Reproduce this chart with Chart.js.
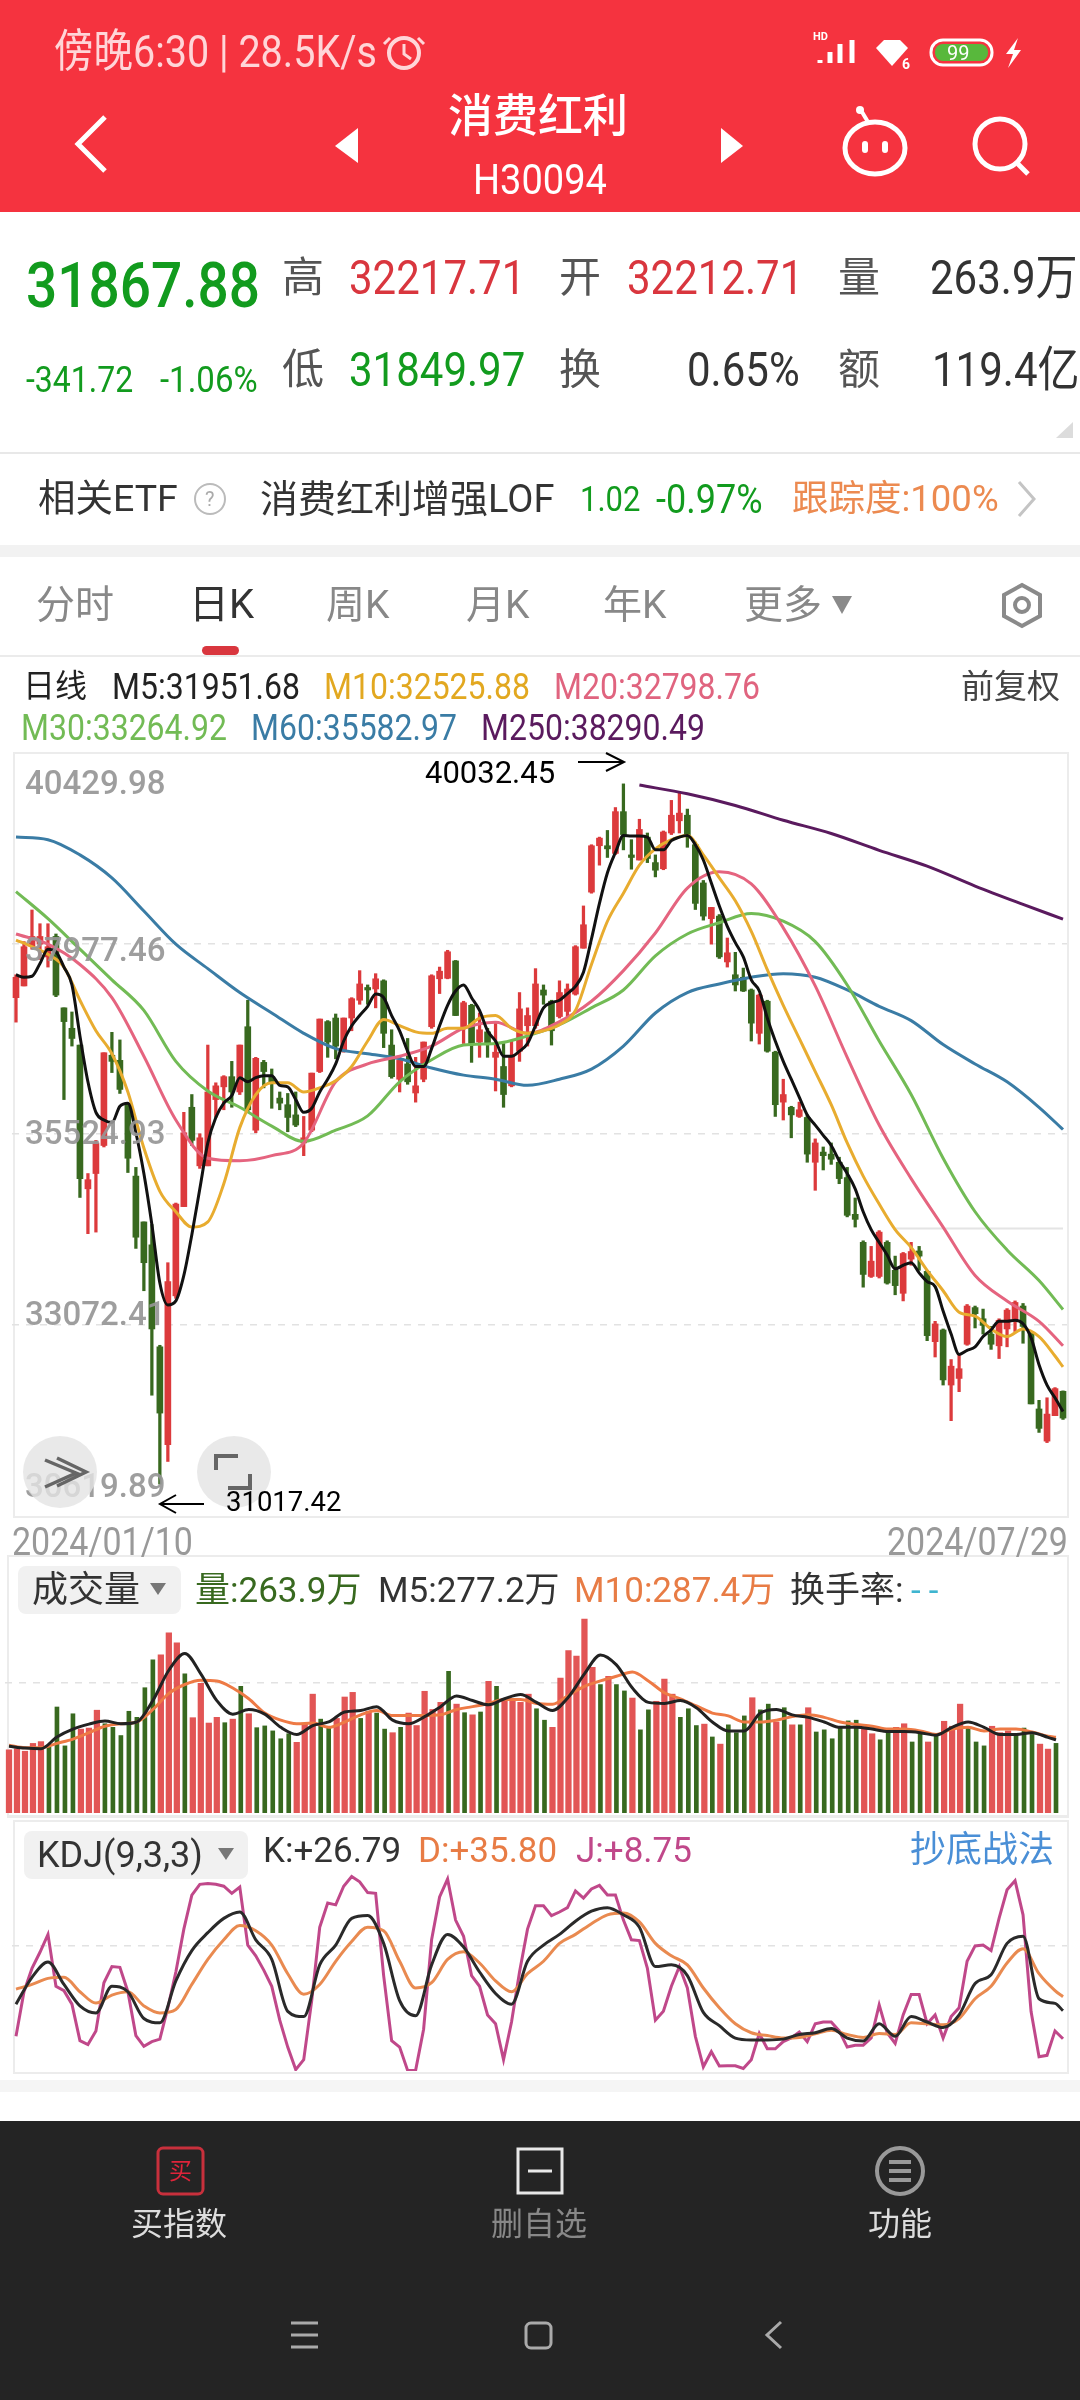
<!DOCTYPE html>
<html lang="zh">
<head>
<meta charset="utf-8">
<title>消费红利 H30094</title>
<script src="https://cdn.jsdelivr.net/npm/chart.js@4/dist/chart.umd.min.js"></script>
<style>
html,body{margin:0;padding:0;background:#fff}
#page{position:relative;width:1080px;height:2400px;overflow:hidden;background:#fff;font-family:Roboto,"Noto Sans CJK SC",sans-serif}
.b{position:absolute}
.t{position:absolute;white-space:nowrap;transform:translateY(-50%);line-height:1}
.n{transform:translateY(-50%) scaleY(1.14)}
canvas{position:absolute}
svg{position:absolute;left:0;top:0}
</style>
</head>
<body>
<div id="page">
  <div class="b" style="left:0;top:0;width:1080px;height:212px;background:#f5333f"></div>
  <div class="b" style="left:0;top:452px;width:1080px;height:2px;background:#e8e8e8"></div>
  <div class="b" style="left:0;top:545px;width:1080px;height:12px;background:#f2f2f2"></div>
  <div class="b" style="left:0;top:655px;width:1080px;height:2px;background:#ebebeb"></div>
  <div class="b" style="left:202px;top:646px;width:37px;height:9px;border-radius:5px;background:#d9363e"></div>
  <div class="b" style="left:13px;top:752px;width:1052px;height:762px;border:2px solid #ececec"></div>
  <div class="b" style="left:7px;top:1555px;width:1058px;height:258px;border:2px solid #ececec;border-bottom-width:3px"></div>
  <div class="b" style="left:13px;top:1820px;width:1052px;height:250px;border:2px solid #ececec"></div>
  <div class="b" style="left:0;top:2080px;width:1080px;height:12px;background:#f5f5f5"></div>
  <div class="b" style="left:0;top:2121px;width:1080px;height:279px;background:#242424"></div>

  <canvas id="priceChart" width="1055" height="762" style="left:12px;top:753px"></canvas>
  <canvas id="volChart" width="1055" height="258" style="left:5px;top:1555px"></canvas>
  <canvas id="kdjChart" width="1055" height="251" style="left:12px;top:1820px"></canvas>

  <div class="b" style="left:18px;top:1566px;width:163px;height:48px;border-radius:8px;background:#f1f1f1"></div>
  <div class="b" style="left:24px;top:1831px;width:224px;height:48px;border-radius:8px;background:#f1f1f1"></div>
  <div class="b" style="left:23px;top:1436px;width:74px;height:72px;border-radius:50%;background:rgba(228,228,228,.8)"></div>
  <div class="b" style="left:197px;top:1436px;width:74px;height:72px;border-radius:50%;background:rgba(228,228,228,.8)"></div>

  <svg width="1080" height="2400" fill="none">
    <!-- header -->
    <path d="M105 117 78 144 105 171" stroke="#fff" stroke-width="5"/>
    <path d="M358 128V163L335 146Z" fill="#fff"/><path d="M721 128V163L743 146Z" fill="#fff"/>
    <ellipse cx="875" cy="148" rx="30" ry="26" stroke="#fff" stroke-width="5"/>
    <path d="M868 122 862 112" stroke="#fff" stroke-width="4"/><circle cx="860" cy="110" r="4" fill="#fff"/>
    <rect x="862" y="141" width="6" height="12" rx="3" fill="#fff"/><rect x="882" y="141" width="6" height="12" rx="3" fill="#fff"/>
    <circle cx="1000" cy="144" r="25" stroke="#fff" stroke-width="5"/><path d="M1018 164 1028 174" stroke="#fff" stroke-width="5"/>
    <!-- status bar -->
    <circle cx="404" cy="53" r="15" stroke="#ffd5d8" stroke-width="4"/><path d="M404 44V54L411 59M390 38 384 44M418 38 424 44" stroke="#ffd5d8" stroke-width="3"/>
    <path d="M820 63V60M830 63V52M840 63V44M852 63V40" stroke="#fff" stroke-width="5"/>
    <path d="M876 48 884 40H900L908 48 892 66Z" fill="#fff"/>
    <rect x="931" y="40" width="61" height="25" rx="12" stroke="#fff" stroke-width="3"/><rect x="935" y="44" width="53" height="17" rx="8" fill="#58b83c"/>
    <path d="M1018 38 1006 54H1013L1008 68 1021 50H1014Z" fill="#fff"/>
    <!-- quote corner, etf row -->
    <path d="M1073 422V438H1056Z" fill="#dcdcdc"/>
    <circle cx="210" cy="499" r="15" stroke="#bbb" stroke-width="2"/>
    <path d="M1019 482 1034 499 1019 516" stroke="#c4c4c4" stroke-width="3"/>
    <!-- tabs -->
    <path d="M832 596H852L842 614Z" fill="#8a8a8a"/>
    <path d="M1022 585 1040 595V616L1022 626 1004 616V595Z" stroke="#8a8a8a" stroke-width="4"/><circle cx="1022" cy="605" r="7" stroke="#8a8a8a" stroke-width="4"/>
    <!-- price chart annotations -->
    <path d="M578 762H622M606 753 624 762 606 771" stroke="#000" stroke-width="2"/>
    <path d="M160 1504H204M176 1495 160 1504 176 1513" stroke="#000" stroke-width="2"/>
    <path d="M45 1460 76 1473 45 1487M57 1458 86 1472 57 1486" stroke="#666" stroke-width="3.5"/>
    <path d="M216 1470V1456H238M250 1474V1488H228" stroke="#666" stroke-width="4"/>
    <!-- pill carets -->
    <path d="M150 1583H166L158 1595Z" fill="#777"/><path d="M218 1848H234L226 1860Z" fill="#777"/>
    <!-- footer icons -->
    <rect x="158" y="2148" width="45" height="46" rx="5" stroke="#c8303c" stroke-width="3"/>
    <rect x="518" y="2149" width="44" height="44" stroke="#e8e8e8" stroke-width="3"/><path d="M528 2171H552" stroke="#e8e8e8" stroke-width="3"/>
    <circle cx="900" cy="2171" r="23" stroke="#999" stroke-width="4"/><path d="M889 2162H911M889 2171H911M889 2180H911" stroke="#999" stroke-width="4"/>
    <path d="M291 2323H318M291 2335H318M291 2347H318" stroke="#aaa" stroke-width="3"/>
    <rect x="526" y="2323" width="25" height="25" rx="5" stroke="#aaa" stroke-width="3"/>
    <path d="M781 2322 767 2335 781 2348" stroke="#aaa" stroke-width="3"/>
  </svg>

  <span class="t n" style="left:54px;top:52px;font-size:39.5px;color:#ffd5d8">傍晚6:30 | 28.5K/s</span>
  <span class="t" style="left:813px;top:36px;font-size:11px;font-weight:700;color:#fff">HD</span>
  <span class="t" style="left:902px;top:64px;font-size:14px;font-weight:700;color:#fff">6</span>
  <span class="t" style="left:947px;top:53px;font-size:20px;color:#fff">99</span>
  <span class="t" style="left:448px;top:116px;font-size:45px;color:#fff;font-weight:500">消费红利</span>
  <span class="t n" style="left:473px;top:179px;font-size:38px;color:#fff">H30094</span>

  <span class="t n" style="left:26px;top:286px;font-size:55px;font-weight:500;color:#129b1e">31867.88</span>
  <span class="t n" style="left:26px;top:379px;font-size:32px;color:#129b1e">-341.72</span>
  <span class="t n" style="left:160px;top:379px;font-size:33px;color:#129b1e">-1.06%</span>
  <span class="t" style="left:282px;top:278px;font-size:42px;color:#555">高</span>
  <span class="t n" style="left:349px;top:278px;font-size:42px;color:#d9363e">32217.71</span>
  <span class="t" style="left:559px;top:278px;font-size:42px;color:#555">开</span>
  <span class="t n" style="left:627px;top:278px;font-size:42px;color:#d9363e">32212.71</span>
  <span class="t" style="left:838px;top:278px;font-size:42px;color:#555">量</span>
  <span class="t n" style="left:930px;top:278px;font-size:42px;color:#333">263.9万</span>
  <span class="t" style="left:282px;top:370px;font-size:42px;color:#555">低</span>
  <span class="t n" style="left:349px;top:370px;font-size:42px;color:#129b1e">31849.97</span>
  <span class="t" style="left:559px;top:370px;font-size:42px;color:#555">换</span>
  <span class="t n" style="left:687px;top:370px;font-size:42px;color:#333">0.65%</span>
  <span class="t" style="left:838px;top:370px;font-size:42px;color:#555">额</span>
  <span class="t n" style="left:932px;top:370px;font-size:42px;color:#333">119.4亿</span>

  <span class="t" style="left:38px;top:499px;font-size:37.5px;color:#333">相关ETF</span>
  <span class="t" style="left:205px;top:499px;font-size:20px;color:#aaa">?</span>
  <span class="t" style="left:260px;top:499px;font-size:38px;color:#333">消费红利增强LOF</span>
  <span class="t n" style="left:580px;top:499px;font-size:31px;color:#129b1e">1.02</span>
  <span class="t n" style="left:656px;top:499px;font-size:36px;color:#129b1e">-0.97%</span>
  <span class="t" style="left:792px;top:499px;font-size:36.5px;color:#ec8a50">跟踪度:100%</span>

  <span class="t" style="left:36px;top:605px;font-size:39px;color:#888">分时</span>
  <span class="t" style="left:189px;top:605px;font-size:40px;color:#333">日K</span>
  <span class="t" style="left:326px;top:605px;font-size:39px;color:#888">周K</span>
  <span class="t" style="left:466px;top:605px;font-size:39px;color:#888">月K</span>
  <span class="t" style="left:603px;top:605px;font-size:39px;color:#888">年K</span>
  <span class="t" style="left:744px;top:605px;font-size:39px;color:#888">更多</span>

  <span class="t" style="left:23px;top:686px;font-size:32px;color:#222">日线</span>
  <span class="t n" style="left:112px;top:686px;font-size:32px;color:#222">M5:31951.68</span>
  <span class="t n" style="left:324px;top:686px;font-size:32px;color:#e2a820">M10:32525.88</span>
  <span class="t n" style="left:554px;top:686px;font-size:32px;color:#e0647f">M20:32798.76</span>
  <span class="t" style="left:961px;top:686px;font-size:33px;color:#444">前复权</span>
  <span class="t n" style="left:21px;top:727px;font-size:32px;color:#72bb55">M30:33264.92</span>
  <span class="t n" style="left:251px;top:727px;font-size:32px;color:#3a7ca5">M60:35582.97</span>
  <span class="t n" style="left:481px;top:727px;font-size:32px;color:#5a1a5e">M250:38290.49</span>

  <span class="t" style="left:425px;top:772px;font-size:31px;color:#000">40032.45</span>
  <span class="t" style="left:226px;top:1502px;font-size:27.5px;color:#000">31017.42</span>
  <span class="t n" style="left:12px;top:1541px;font-size:34px;color:#999">2024/01/10</span>
  <span class="t n" style="left:887px;top:1541px;font-size:34px;color:#999">2024/07/29</span>

  <span class="t" style="left:32px;top:1590px;font-size:36px;color:#333">成交量</span>
  <span class="t" style="left:195px;top:1590px;font-size:35px;color:#38691f">量:263.9万</span>
  <span class="t" style="left:378px;top:1590px;font-size:35px;color:#333">M5:277.2万</span>
  <span class="t" style="left:574px;top:1590px;font-size:35px;color:#e87c45">M10:287.4万</span>
  <span class="t" style="left:790px;top:1590px;font-size:35px;color:#333">换手率:</span>
  <span class="t" style="left:911px;top:1590px;font-size:35px;letter-spacing:8px;color:#3fb5d0">--</span>

  <span class="t" style="left:37px;top:1855px;font-size:36px;color:#333">KDJ(9,3,3)</span>
  <span class="t" style="left:263px;top:1850px;font-size:35px;color:#333">K:+26.79</span>
  <span class="t" style="left:418px;top:1850px;font-size:35px;color:#e87c45">D:+35.80</span>
  <span class="t" style="left:576px;top:1850px;font-size:35px;color:#c0488a">J:+8.75</span>
  <span class="t" style="left:910px;top:1850px;font-size:36px;color:#4a8fd6">抄底战法</span>

  <span class="t" style="left:169px;top:2171px;font-size:23px;color:#e0243a">买</span>
  <span class="t" style="left:131px;top:2224px;font-size:32px;color:#ddd">买指数</span>
  <span class="t" style="left:491px;top:2224px;font-size:32px;color:#888">删自选</span>
  <span class="t" style="left:868px;top:2224px;font-size:32px;color:#ddd">功能</span>
</div>

<script>
// values, one entry per trading day 2024/01/10 - 2024/07/29
var opens = [37280,37431,37936,37969,37805,38068,37149,36886,36670,34819,35016,35377,36539,36473,35902,34983,34393,34098,32785,31525,
  33441,34590,35869,35115,35115,35968,36132,36263,36066,36906,35574,36447,36263,35987,35902,35771,35410,35574,36329,36972,
  37018,36591,37018,37247,37411,37392,37497,36670,36230,36427,36053,36230,36906,37523,37530,37753,36886,37182,36709,36840,
  36512,36394,36145,36591,36919,36919,37379,37234,37037,37103,37326,37917,38639,39236,39236,39137,39675,39118,39052,39347,
  39019,38940,39400,39557,39629,39249,38757,38297,38330,37740,37575,37543,37379,36821,37234,36578,35935,35869,35751,35738,
  35161,35292,35266,35161,34964,34491,34130,33691,33691,34130,33770,33474,33914,34019,33756,32851,33002,32293,32378,32818,
  33290,33146,32949,32798,33015,33146,33310,32969,31985,31571,31899,32212.71];
var closes = [37543,37936,38068,38068,37936,37313,36972,36755,34951,34937,35410,36571,36460,36099,35213,34196,33868,33015,31932,33625,
  34623,35541,35443,35476,36066,36145,36263,36066,36670,35837,36499,36329,36197,35922,35738,35640,35476,36309,37005,36709,
  36657,37018,37267,37457,37379,37523,36821,36263,36473,36197,36145,36709,37562,37621,37871,37050,37215,36690,36867,36690,
  36578,36033,36526,37136,37050,37457,37313,36854,37346,37392,37936,38219,39236,39334,39196,39675,39380,39085,39446,39072,
  38921,39413,39629,39656,39360,38494,38330,38442,37805,37858,37444,37366,36952,37313,36591,35902,36033,35771,35837,35266,
  35410,35246,35200,34951,34478,34426,33717,33888,34262,33606,33573,33986,34012,33953,32929,33080,32359,32536,32503,33310,
  33212,33061,32818,33127,33258,33356,33048,32050,31735,31919,32247,31867.88];
var highs = [37575,38002,38409,38232,38232,38100,37149,37096,36670,35016,35443,36571,36834,36736,35922,35095,34393,34360,32805,33868,
  34636,35804,36033,35528,36670,36184,36276,36460,36670,37247,36512,36473,36362,36066,36047,36066,35751,36309,37005,36985,
  37070,37018,37280,37628,37444,37589,37510,36867,36526,36755,36512,36709,37575,37674,37890,37759,37234,37195,37083,36886,
  36952,36690,36722,37346,37149,37654,37444,37247,37497,37457,37950,38461,39249,39347,39433,39728,40032.45,39314,39577,39400,
  39118,39426,39820,39925,39708,39282,38789,38442,38350,38048,37864,37661,37392,37326,37247,36591,36230,35882,35935,35771,
  35462,35358,35410,35226,35095,34701,34150,34078,34281,34150,33953,34000,34130,34078,33770,33113,33015,32621,32687,33330,
  33310,33271,33048,33146,33277,33376,33343,32982,32096,32129,32260,32217.71];
var lows = [36965,37431,37904,37772,37674,37293,35968,36657,34708,34242,34262,35358,36316,36047,35029,34052,33507,32162,31017.42,31309,
  33409,34590,35377,35082,35115,35738,35837,35869,36033,35804,35541,36119,35856,35837,35554,35620,35246,35554,36316,36512,
  36493,36578,36854,37195,37195,37149,36637,36243,36066,36165,35935,36197,36886,37333,37523,37050,36690,36447,36512,36512,
  36079,35869,36132,36460,36657,36886,37195,36670,37018,37018,37313,37917,38625,38986,39085,39124,39183,38934,39052,39019,
  38835,38927,39380,39400,39216,38415,38278,37969,37785,37674,37366,37359,36722,36683,36578,35751,35705,35476,35738,35161,
  34800,35062,35134,34885,34458,34327,33553,33678,33671,33592,33455,33376,33835,33770,32864,32654,32293,31834,32208,32805,
  33028,32949,32752,32634,32785,32982,32831,32050,31683,31552,31899,31849.97];

var ma5 = [37575,37543,37556,37720,37904,37871,37674,37444,36788,36197,35804,35705,35672,35882,35922,35541,35016,34360,33606,33323,
  33376,33704,34229,34819,35410,35738,35922,36020,36250,36197,36250,36276,36276,36151,36132,35968,35804,35856,36066,36230,
  36427,36722,36919,37050,37169,37326,37280,37050,36854,36591,36394,36394,36624,36919,37182,37366,37444,37280,37116,36854,
  36722,36526,36526,36591,36690,36919,37149,37215,37247,37333,37425,37608,38035,38494,38888,39150,39367,39360,39360,39347,
  39183,39183,39301,39347,39367,39249,39052,38757,38461,38199,37989,37805,37510,37366,37018,36722,36460,36230,36001,35771,
  35640,35508,35377,35180,35016,34819,34524,34294,34130,33966,33789,33835,33868,33737,33625,33560,33245,32949,32687,32739,
  32785,32917,33002,33113,33113,33126,33081,32903,32555,32293,32129,31951.68];
// every 2nd trading day, last value is the last day
var ma10 = [38022,37936,37838,37674,37247,36854,36558,36066,35344,34787,34524,34327,34393,34885,35607,36033,36184,36184,36066,36119,
  36211,36394,36722,36998,36919,36840,36821,36886,36886,37018,37050,36886,36821,36854,36932,37116,37707,38264,38625,38986,
  39196,39314,39367,39118,38822,38527,38133,37641,37182,36755,36329,35902,35410,34983,34623,34294,34065,33770,33507,33231,
  33179,33015,32917,33015,32917,32667,32525.88];
// every 4th trading day
var ma20 = [38100,37969,37707,37280,36526,35705,35213,35180,35246,35410,36197,36427,36526,36657,36886,36965,36821,36972,37234,37628,
  38113,38691,38901,38744,38179,37431,36512,35640,34951,34327,33704,33376,33113,32798.76];
var ma30 = [38645,38297,37904,37510,37116,36460,36079,35869,35627,35430,35574,35758,36197,36480,36670,36690,36788,36932,37149,37379,
  37818,38100,38245,38363,38264,38002,37444,36722,36033,35213,34524,34032,33638,33264.92];
var ma60 = [39347,39314,39118,38822,38396,37969,37654,37346,37083,36821,36624,36558,36493,36375,36283,36230,36151,36230,36361,36657,
  37083,37346,37457,37543,37589,37543,37379,37169,36985,36676,36427,36197,35869,35582.97];
// every 6th trading day from day 78
var ma250 = [40017,39905,39754,39564,39393,39177,38973,38717,38481,38290.49];
var crossLevel = 34308;

var yTicks = [40429.98,37977.46,35524.93,33072.41,30619.89];
var xLabels = ["2024/01/10","2024/07/29"];

// volume, in 万
var volume = [239.5,243.5,234.1,263.8,270.6,250.3,401.8,254.4,376.1,318,322,389.7,338.3,324.7,293.6,385.6,362.6,474.9,580.4,599.4,
  683.3,645.4,527.7,361.3,491.1,341,362.6,342.3,355.8,480.3,376.1,323.4,330.1,311.2,281.4,300.4,267.9,338.3,450.5,355.8,
  324.7,358.5,439.7,457.3,358.5,385.6,378.8,318,304.4,324.7,378.8,331.5,461.4,392.4,419.4,537.1,412.7,380.2,372.1,382.9,
  499.3,480.3,433,426.2,419.4,450.5,395.1,351.8,324.7,511.4,615.6,595.3,734.7,552,487.1,518.2,487.1,462.7,435.7,315.2,
  391,423.5,507.4,450.5,362.6,395.1,331.5,336.9,288.2,261.1,334.2,304.4,368,437,391,412.7,345,399.1,334.2,334.2,
  399.1,307.1,315.2,281.4,324.7,349.1,351.8,324.7,300.4,277.4,311.2,324.7,338.3,269.2,308.5,269.2,295,347.7,328.8,412.7,
  320.7,269.2,254.4,328.8,304.4,311.2,297.7,322,297.7,261.1,242.2,263.9];
// every 2nd trading day, last value is the last day
var volM5 = [253,246.2,243.5,288.2,318,336.9,349.1,338.3,345,426.2,541.2,604.8,527.7,426.2,374.8,392.4,374.8,324.7,297.7,331.5,
  345,382.9,388.3,403.2,351.8,338.3,365.3,403.2,443.8,426.2,410,433,449.2,419.4,388.3,439.7,527.7,599.4,561.5,473.6,
  419.4,415.4,426.2,399.1,345,311.2,311.2,378.8,392.4,372.1,362.6,345,324.7,324.7,318,308.5,308.5,304.4,295,324.7,
  345,324.7,297.7,297.7,304.4,286.8,277.2];
var volM10 = [257.1,247.6,247.6,263.8,280.1,304.4,328.8,338.3,345,392.4,453.3,487.1,503.3,500.6,473.6,433,378.8,351.8,338.3,341,
  324.7,345,372.1,388.3,369.4,369.4,369.4,372.1,392.4,403.2,415.4,430.3,430.3,415.4,412.7,446.5,480.3,500.6,518.2,534.4,
  500.6,456,433,405.9,378.8,368,345,345,351.8,365.3,372.1,362.6,345,335.5,328.8,318,318,311.2,297.7,318,
  324.7,311.2,318,318,307.1,290.9,287.4];
var volTick = 494;

// KDJ
var kdjJ = [10.3,39,54,64.4,75.9,42.5,39.7,31,7.5,5,13.8,44.8,55.2,54.7,39,10.8,3.9,6.9,8.5,28.7,
  51.7,79.3,101.2,108.1,108.7,108.1,106.9,102.3,106.4,69,62.1,52.9,42.5,20.7,3.4,-11.1,-4.7,33.3,80.5,96.1,
  94.9,106.9,113.1,109.7,102.8,102.3,49.4,7.5,3.4,-11.6,-11.6,14.9,72.4,100,111.5,85.1,74.7,49.4,42.5,24.1,
  18.4,-4.7,19.5,51.7,79.3,94.3,94.3,88,90.3,93.1,103.9,99.3,105.1,107.4,101.2,101.2,85.1,72.4,71.9,54,
  20.7,26.4,42.5,55.2,41.4,10.3,-9.3,0.4,-8.8,-8.6,-8.6,-10.4,-4.7,12.1,2.3,2.3,6.9,9.2,13.1,6.9,
  18.4,19.5,19.5,13.8,3.4,4.6,4.6,9.2,30.5,12.6,5.7,24.1,37.2,37.2,18.4,24.1,9.2,23,28.7,58.6,
  68.5,69,65.5,86.2,104.6,110.4,88.5,26.4,-2.8,-1.9,13.8,8.75];
// every 2nd trading day, last value is the last day
var kdjK = [31,48.3,58.1,43.7,29.9,25.3,42.5,39,21.8,19,46,65.5,77,86.2,90.3,72.4,59.8,26.4,23,56.3,
  69,86.2,88,70.1,33.3,23.6,56.3,75.9,67.8,51.7,37.9,31,58.6,69,75.9,84.4,90.8,93.1,88.5,80.5,
  55.2,56.3,49.4,25.7,17.2,9.2,8,8,8.5,11.5,12.6,15.4,9.2,7.3,18.4,10.3,23,19.5,16,24.1,
  44.3,49.9,70.1,74.7,34.5,31.5,26.79];
var kdjD = [40.7,43.7,47.6,48.3,39,31.7,36.8,39,29.9,25.3,27.6,43.7,59.8,72.4,81.6,78.2,69,50.6,37.4,43.7,
  58.6,71.3,80.5,78.2,58.6,41.4,44.8,59.8,64.8,57.5,46,39,50.6,58.6,70.1,75.9,82.8,88.5,89.7,83.9,
  70.1,62.1,56.3,41.4,28.7,18.4,12.6,10.8,9.2,9.6,11.9,14.2,11.5,9.6,12.1,11.5,19,18.4,17.7,21.8,
  34.5,42.5,57.5,66.7,50.6,39.7,35.8];
var kdjTick = 68.75;

var red = "#dc3a3c";
var green = "#38691f";
var volRed = "#e25555";
var dayLabels = opens.map(function (v, i) { return String(i); });

function sparse(values, step, start) {
    var out = dayLabels.map(function () { return null; });
    values.forEach(function (v, k) {
        out[Math.min((start || 0) + k * step, out.length - 1)] = v;
    });
    return out;
}

function isUp(i) { return closes[i] >= opens[i]; }

// smooth: true uses monotone curves, so the line does not overshoot between read points
function lineSet(label, data, color, order, smooth) {
    return {
        type: "line", label: label, data: data, borderColor: color, borderWidth: 3,
        pointRadius: 0, spanGaps: true, order: order, clip: false,
        cubicInterpolationMode: smooth ? "monotone" : "default", tension: 0
    };
}

function baseOptions(yMin, yMax, tickValues) {
    return {
        responsive: false, animation: false, devicePixelRatio: 1,
        layout: { padding: 0 },
        plugins: { legend: { display: false }, tooltip: { enabled: false } },
        scales: {
            x: { display: false, stacked: false },
            y: {
                min: yMin, max: yMax,
                afterBuildTicks: function (axis) {
                    axis.ticks = tickValues.map(function (v) { return { value: v }; });
                },
                afterFit: function (axis) { axis.width = 0; },
                ticks: { display: false },
                border: { display: false, dash: [7, 7] },
                grid: { color: "#e2e2e2", lineWidth: 1.5, drawTicks: false }
            }
        }
    };
}

var yLabelShift = [33, 9, 2, -8, -26];
var priceTickLabels = {
    id: "priceTickLabels",
    afterDatasetsDraw: function (chart) {
        var ctx = chart.ctx, y = chart.scales.y;
        ctx.save();
        ctx.font = "500 33px Roboto";
        ctx.fillStyle = "rgba(150,150,150,0.92)";
        ctx.textBaseline = "middle";
        yTicks.forEach(function (v, i) {
            ctx.fillText(v.toFixed(2), 13, y.getPixelForValue(v) + yLabelShift[i]);
        });
        ctx.restore();
    }
};

var priceChart = new Chart(document.getElementById("priceChart"), {
    type: "bar",
    data: {
        labels: dayLabels,
        datasets: [
            lineSet("M5", ma5, "#111", 1, true),
            lineSet("M10", sparse(ma10, 2), "#e8ac2f", 2, true),
            lineSet("M20", sparse(ma20, 4), "#e5647f", 3, true),
            lineSet("M30", sparse(ma30, 4), "#72bb55", 4, true),
            lineSet("M60", sparse(ma60, 4), "#3a7ca5", 5, true),
            lineSet("M250", sparse(ma250, 6, 78), "#5a1a5e", 6, true),
            {
                type: "line", label: "level", data: dayLabels.map(function (d, i) { return i >= 110 ? crossLevel : null; }),
                borderColor: "#e4e4e4", borderWidth: 2, pointRadius: 0, order: 20
            },
            {
                label: "body",
                data: opens.map(function (o, i) { return [Math.min(o, closes[i]), Math.max(o, closes[i])]; }),
                backgroundColor: opens.map(function (o, i) { return isUp(i) ? red : green; }),
                barThickness: 6, grouped: false, order: 10
            },
            {
                label: "wick",
                data: lows.map(function (l, i) { return [l, highs[i]]; }),
                backgroundColor: opens.map(function (o, i) { return isUp(i) ? red : green; }),
                barThickness: 2.6, grouped: false, order: 11
            }
        ]
    },
    options: baseOptions(yTicks[4], yTicks[0], yTicks.slice(1, 4)),
    plugins: [priceTickLabels]
});

var volChart = new Chart(document.getElementById("volChart"), {
    type: "bar",
    data: {
        labels: dayLabels,
        datasets: [
            lineSet("M5", sparse(volM5, 2), "#222", 1, true),
            lineSet("M10", sparse(volM10, 2), "#ee7a45", 2, true),
            {
                label: "up", data: volume.map(function (v, i) { return isUp(i) ? v : null; }),
                backgroundColor: volRed, barThickness: 5.6, grouped: false, order: 10
            },
            {
                label: "down", data: volume.map(function (v, i) { return isUp(i) ? null : v; }),
                backgroundColor: green, barThickness: 4, grouped: false, order: 10
            }
        ]
    },
    options: baseOptions(0, 978, [volTick])
});

var kdjOptions = baseOptions(-12, 149.5, [kdjTick]);
kdjOptions.scales.x.offset = true;
var kdjChart = new Chart(document.getElementById("kdjChart"), {
    type: "line",
    data: {
        labels: dayLabels,
        datasets: [
            lineSet("K", sparse(kdjK, 2), "#2a2a2a", 1, true),
            lineSet("D", sparse(kdjD, 2), "#e98a50", 2, true),
            lineSet("J", kdjJ, "#c0488a", 3, false)
        ]
    },
    options: kdjOptions
});
</script>
</body>
</html>
